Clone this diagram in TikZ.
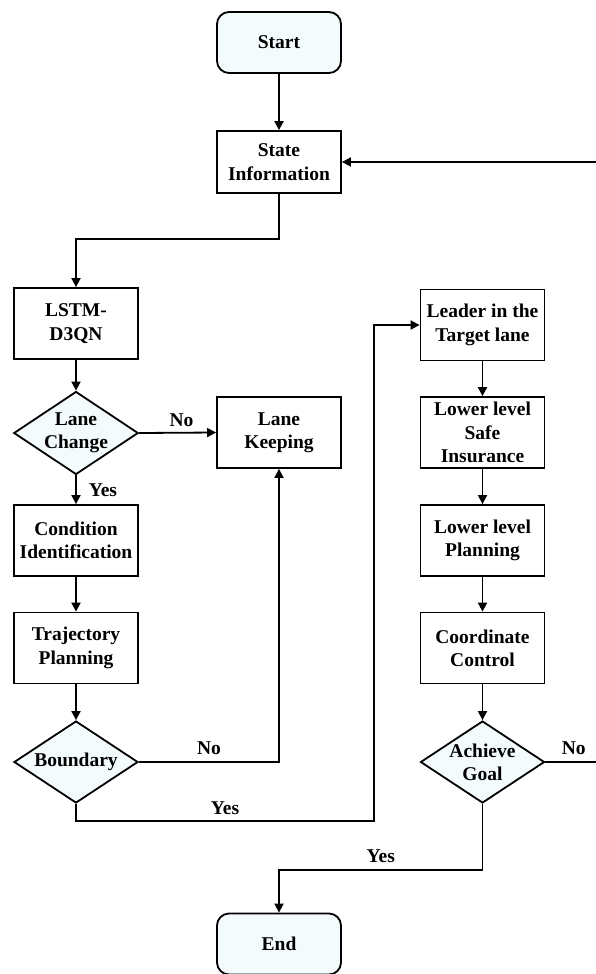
\documentclass[tikz,border=0pt]{standalone}
\usepackage{fontspec}
\setmainfont{Liberation Serif}
\usetikzlibrary{shapes.geometric,arrows.meta}
\definecolor{paleC}{HTML}{F3FBFC}
\tikzset{
  every node/.style={font=\fontsize{19.5}{23.3}\selectfont\bfseries, align=center},
  boxnode/.style={draw, line width=1.8pt, fill=white, minimum width=124pt, minimum height=71pt, inner sep=0pt},
  termnode/.style={draw, line width=1.8pt, fill=paleC, rounded corners=12pt, minimum width=124pt, minimum height=61pt, inner sep=0pt},
  decnode/.style={draw, line width=1.8pt, fill=paleC, diamond, aspect=1.5, minimum width=124pt, minimum height=82pt, inner sep=0pt},
  conn/.style={line width=1.8pt, -{Triangle[length=9pt,width=9pt]}},
  plainconn/.style={line width=1.8pt},
  lbl/.style={inner sep=0pt}
}
\begin{document}
\begin{tikzpicture}[x=1pt,y=-1pt]
\useasboundingbox (0,0) rectangle (596,974);
\clip (0,0) rectangle (596,974);
% left/center column
\node[termnode] (start) at (279,42.5) {Start};
\node[boxnode, minimum height=62pt] (state) at (279,162) {State\\Information};
\node[boxnode] (lstm) at (76,323.5) {LSTM-\\D3QN};
\node[decnode] (lc) at (76,433) {Lane\\Change};
\node[boxnode] (keep) at (279,432.5) {Lane\\Keeping};
\node[boxnode] (cond) at (76,540.5) {Condition\\Identification};
\node[boxnode] (traj) at (76,648) {Trajectory\\Planning};
\node[decnode] (bnd) at (76,762) {Boundary};
% right column
\node[boxnode] (lead) at (482.5,325) {Leader in the\\Target lane};
\node[boxnode] (safe) at (482.5,432.5) {Lower level\\Safe\\Insurance};
\node[boxnode] (plan) at (482.5,540.5) {Lower level\\Planning};
\node[boxnode] (coord) at (482.5,648) {Coordinate\\Control};
\node[decnode] (goal) at (482.5,762) {Achieve\\Goal};
\node[termnode] (end) at (279,944) {End};
% coordinates
\coordinate (offR) at (602,162);
% connectors
\draw[conn] (start) -- (state);
\draw[conn] (state.south) |- (76,239) -- (lstm.north);
\draw[conn] (lstm) -- (lc);
\draw[conn] (lc.east) -- node[lbl, above=5pt, pos=0.55] {No} (keep.west);
\draw[conn] (lc.south) -- node[lbl, right=12pt, pos=0.5] {Yes} (cond.north);
\draw[conn] (cond) -- (traj);
\draw[conn] (traj) -- (bnd);
\draw[conn] (bnd.east) -- node[lbl, above=6pt, pos=0.5] {No} (279,762) -- (keep.south);
\draw[conn] (bnd.south) -- (76,821) -- node[lbl, above=5pt, pos=0.5] {Yes} (374,821) -- (374,325) -- (lead.west);
\draw[conn] (lead) -- (safe);
\draw[conn] (safe) -- (plan);
\draw[conn] (plan) -- (coord);
\draw[conn] (coord) -- (goal);
\draw[conn] (goal.south) -- (482.5,870) -- node[lbl, above=6pt, pos=0.5] {Yes} (279,870) -- (end.north);
\draw[plainconn] (goal.east) -- node[lbl, above=6pt, pos=0.5] {No} (602,762) -- (offR);
\draw[conn] (offR) -- (state.east);
\end{tikzpicture}
\end{document}
